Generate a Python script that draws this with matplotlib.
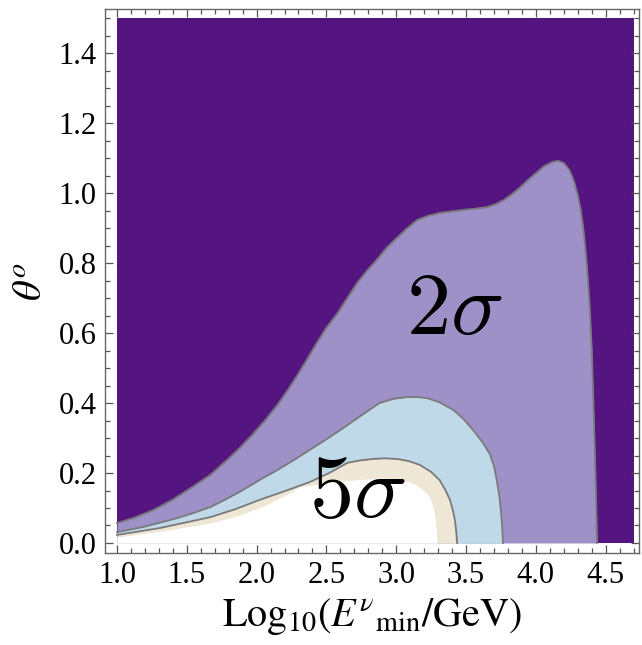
import matplotlib
matplotlib.use("Agg")
import matplotlib.pyplot as plt
from matplotlib.ticker import MultipleLocator

# boundaries (x = log10 E, y = theta)
outer_x = [1.0, 1.13, 1.26, 1.40, 1.54, 1.67, 1.79, 1.88, 1.97, 2.06, 2.15, 2.22,
           2.29, 2.36, 2.43, 2.50, 2.58, 2.65, 2.72, 2.79, 2.86, 2.93, 3.01, 3.08,
           3.15, 3.23, 3.31, 3.46, 3.56, 3.65, 3.71, 3.77, 3.83, 3.89, 3.95, 4.01,
           4.06, 4.12, 4.16, 4.20, 4.24, 4.27, 4.30, 4.32, 4.34, 4.355, 4.37, 4.385,
           4.40, 4.41, 4.42, 4.43, 4.436, 4.438]
outer_y = [0.057, 0.073, 0.094, 0.124, 0.160, 0.195, 0.238, 0.272, 0.310, 0.350,
           0.395, 0.435, 0.478, 0.524, 0.571, 0.615, 0.657, 0.700, 0.743, 0.778,
           0.809, 0.843, 0.874, 0.900, 0.923, 0.935, 0.943, 0.951, 0.955, 0.960,
           0.968, 0.980, 0.997, 1.017, 1.040, 1.060, 1.077, 1.089, 1.092, 1.086,
           1.066, 1.037, 0.995, 0.955, 0.900, 0.840, 0.770, 0.680, 0.560, 0.430,
           0.300, 0.150, 0.050, 0.0]

blue_x = [1.0, 1.19, 1.43, 1.55, 1.67, 1.78, 1.90, 2.02, 2.15, 2.27, 2.38, 2.49,
          2.60, 2.74, 2.88, 2.98, 3.08, 3.15, 3.22, 3.31, 3.41, 3.48, 3.55, 3.62,
          3.67, 3.70, 3.72, 3.74, 3.755, 3.765]
blue_y = [0.031, 0.046, 0.071, 0.086, 0.103, 0.125, 0.151, 0.180, 0.209, 0.238,
          0.266, 0.294, 0.323, 0.362, 0.400, 0.412, 0.417, 0.417, 0.414, 0.402,
          0.380, 0.355, 0.323, 0.287, 0.255, 0.220, 0.180, 0.130, 0.070, 0.0]

beige_x = [1.0, 1.31, 1.67, 1.85, 2.02, 2.20, 2.38, 2.52, 2.65, 2.74, 2.83, 2.92,
           3.01, 3.09, 3.17, 3.25, 3.31, 3.35, 3.385, 3.405, 3.42, 3.43, 3.436]
beige_y = [0.023, 0.043, 0.074, 0.097, 0.123, 0.148, 0.174, 0.200, 0.229, 0.236,
           0.240, 0.242, 0.240, 0.234, 0.223, 0.203, 0.180, 0.153, 0.123, 0.095,
           0.066, 0.033, 0.0]

white_x = [1.0, 1.33, 1.67, 1.88, 2.05, 2.20, 2.31, 2.43, 2.55, 2.72, 2.90, 3.01,
           3.12, 3.19, 3.24, 3.265, 3.28, 3.288, 3.292]
white_y = [0.017, 0.035, 0.057, 0.080, 0.105, 0.135, 0.160, 0.168, 0.174, 0.181,
           0.186, 0.182, 0.171, 0.153, 0.131, 0.100, 0.066, 0.030, 0.0]

x_range = [1.0, 4.70]
y_top = 1.5

c_dark = "#541580"
c_purple = "#9d91c8"
c_blue = "#c0d9e8"
c_beige = "#eee7d6"
c_line = "#7a7a7a"

plt.rcParams["mathtext.fontset"] = "stix"
plt.rcParams["font.family"] = ["Liberation Serif", "DejaVu Serif"]

fig = plt.figure(figsize=(6.42, 6.45), dpi=100)
ax = fig.add_axes([105 / 642, 92 / 645, 534 / 642, 544 / 645])

ax.fill_between(x_range, 0, y_top, color=c_dark, lw=0)
ax.fill_between(outer_x, 0, outer_y, color=c_purple, lw=0)
ax.fill_between(blue_x, 0, blue_y, color=c_blue, lw=0)
ax.fill_between(beige_x, 0, beige_y, color=c_beige, lw=0)
ax.fill_between(white_x, 0, white_y, color="white", lw=0)

for xs, ys in [(outer_x, outer_y), (blue_x, blue_y), (beige_x, beige_y)]:
    ax.plot(xs, ys, color=c_line, lw=1.3, solid_joinstyle="round")

ax.text(3.42, 0.66, r"$2\sigma$", fontsize=64, ha="center", va="center",
        math_fontfamily="cm")
ax.text(2.72, 0.135, r"$5\sigma$", fontsize=64, ha="center", va="center",
        math_fontfamily="cm")

ax.set_xlim(0.914, 4.739)
ax.set_ylim(-0.0286, 1.526)

ax.xaxis.set_major_locator(MultipleLocator(0.5))
ax.xaxis.set_minor_locator(MultipleLocator(0.1))
ax.yaxis.set_major_locator(MultipleLocator(0.2))
ax.yaxis.set_minor_locator(MultipleLocator(0.05))
ax.set_xticks([1.0, 1.5, 2.0, 2.5, 3.0, 3.5, 4.0, 4.5])
ax.set_xticklabels(["1.0", "1.5", "2.0", "2.5", "3.0", "3.5", "4.0", "4.5"])
ax.set_yticks([0.0, 0.2, 0.4, 0.6, 0.8, 1.0, 1.2, 1.4])
ax.set_yticklabels(["0.0", "0.2", "0.4", "0.6", "0.8", "1.0", "1.2", "1.4"])

ax.tick_params(which="both", direction="in", top=True, right=True,
               color="#555555", labelsize=22, width=0.9)
ax.tick_params(which="major", length=6, pad=6)
ax.tick_params(which="minor", length=3.5)
for s in ax.spines.values():
    s.set_color("#666666")
    s.set_linewidth(1.0)

ax.set_xlabel(r"$\mathrm{Log}_{10}(E^{\nu}{}_{\mathrm{min}}/\mathrm{GeV})$",
              fontsize=29, labelpad=4)
ax.set_ylabel(r"$\theta^{o}$", fontsize=29, labelpad=6)

fig.savefig("out.png", dpi=100)
